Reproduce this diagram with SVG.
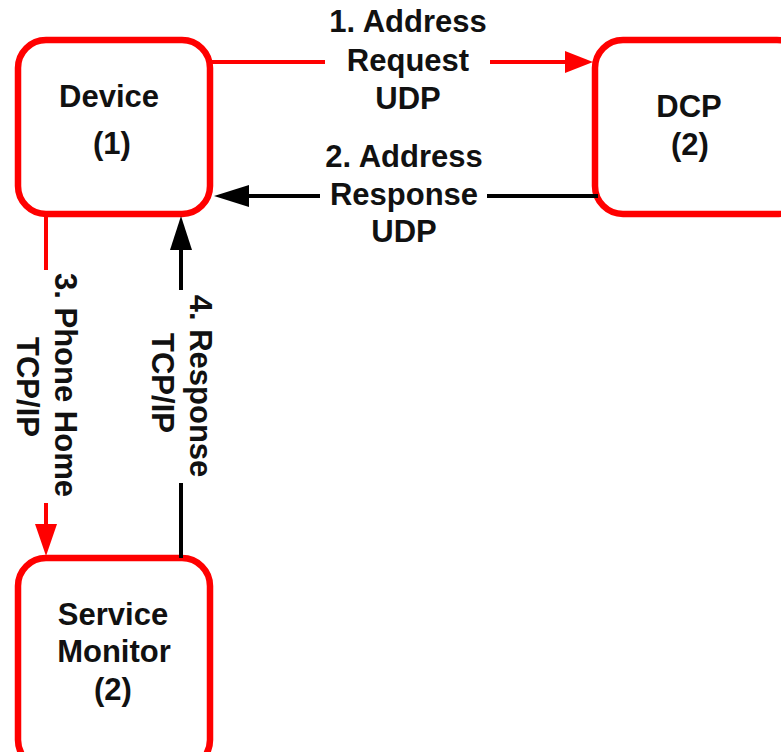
<svg xmlns="http://www.w3.org/2000/svg" width="781" height="752" viewBox="0 0 781 752">
  <style>
    .box { fill: #ffffff; stroke: #ff0000; stroke-width: 6.5; }
    .lbl { font-family: "Liberation Sans", Arial, sans-serif; font-weight: bold; font-size: 31px; fill: #111111; text-anchor: middle; }
    .red { stroke: #ff0000; stroke-width: 4; fill: none; }
    .blk { stroke: #000000; stroke-width: 4; fill: none; }
  </style>
  <rect x="0" y="0" width="781" height="752" fill="#ffffff"/>

  <!-- nodes -->
  <g id="device">
    <rect class="box" x="18" y="40" width="192" height="174" rx="28" ry="28"/>
    <text class="lbl" x="109" y="107">Device</text>
    <text class="lbl" x="112" y="154">(1)</text>
  </g>
  <g id="dcp">
    <rect class="box" x="595" y="40" width="210" height="174" rx="28" ry="28"/>
    <text class="lbl" x="689" y="117">DCP</text>
    <text class="lbl" x="690" y="155">(2)</text>
  </g>
  <g id="service-monitor">
    <rect class="box" x="18" y="558" width="192" height="210" rx="28" ry="28"/>
    <text class="lbl" x="113" y="625">Service</text>
    <text class="lbl" x="114" y="662">Monitor</text>
    <text class="lbl" x="113" y="700">(2)</text>
  </g>

  <!-- connectors -->
  <g id="connectors">
    <!-- 1. Address Request (Device to DCP) -->
    <line class="red" x1="212" y1="62" x2="325" y2="62"/>
    <line class="red" x1="490" y1="62" x2="566" y2="62"/>
    <polygon points="565,51 593,62 565,73" fill="#ff0000"/>
    <!-- 2. Address Response (DCP to Device) -->
    <line class="blk" x1="598" y1="196" x2="487" y2="196"/>
    <line class="blk" x1="320" y1="196" x2="248" y2="196"/>
    <polygon points="249,185 214,196 249,207" fill="#000000"/>
    <!-- 3. Phone Home (Device to Service Monitor) -->
    <line class="red" x1="46" y1="216" x2="46" y2="270"/>
    <line class="red" x1="46" y1="503" x2="46" y2="525"/>
    <polygon points="35,524 46,556 57,524" fill="#ff0000"/>
    <!-- 4. Response (Service Monitor to Device) -->
    <line class="blk" x1="181" y1="558" x2="181" y2="483"/>
    <line class="blk" x1="181" y1="290" x2="181" y2="248"/>
    <polygon points="170,250 181,216 192,250" fill="#000000"/>
  </g>

  <!-- connector labels -->
  <g id="labels">
    <text class="lbl" x="408" y="32">1. Address</text>
    <text class="lbl" x="408" y="71">Request</text>
    <text class="lbl" x="408" y="109">UDP</text>
    <text class="lbl" x="404" y="167">2. Address</text>
    <text class="lbl" x="404" y="205">Response</text>
    <text class="lbl" x="404" y="242">UDP</text>
    <g transform="translate(55,385) rotate(90)">
      <text class="lbl" x="0" y="0">3. Phone Home</text>
      <text class="lbl" x="2" y="38">TCP/IP</text>
    </g>
    <g transform="translate(190,386) rotate(90)">
      <text class="lbl" x="0" y="0">4. Response</text>
      <text class="lbl" x="-3" y="38">TCP/IP</text>
    </g>
  </g>
</svg>
